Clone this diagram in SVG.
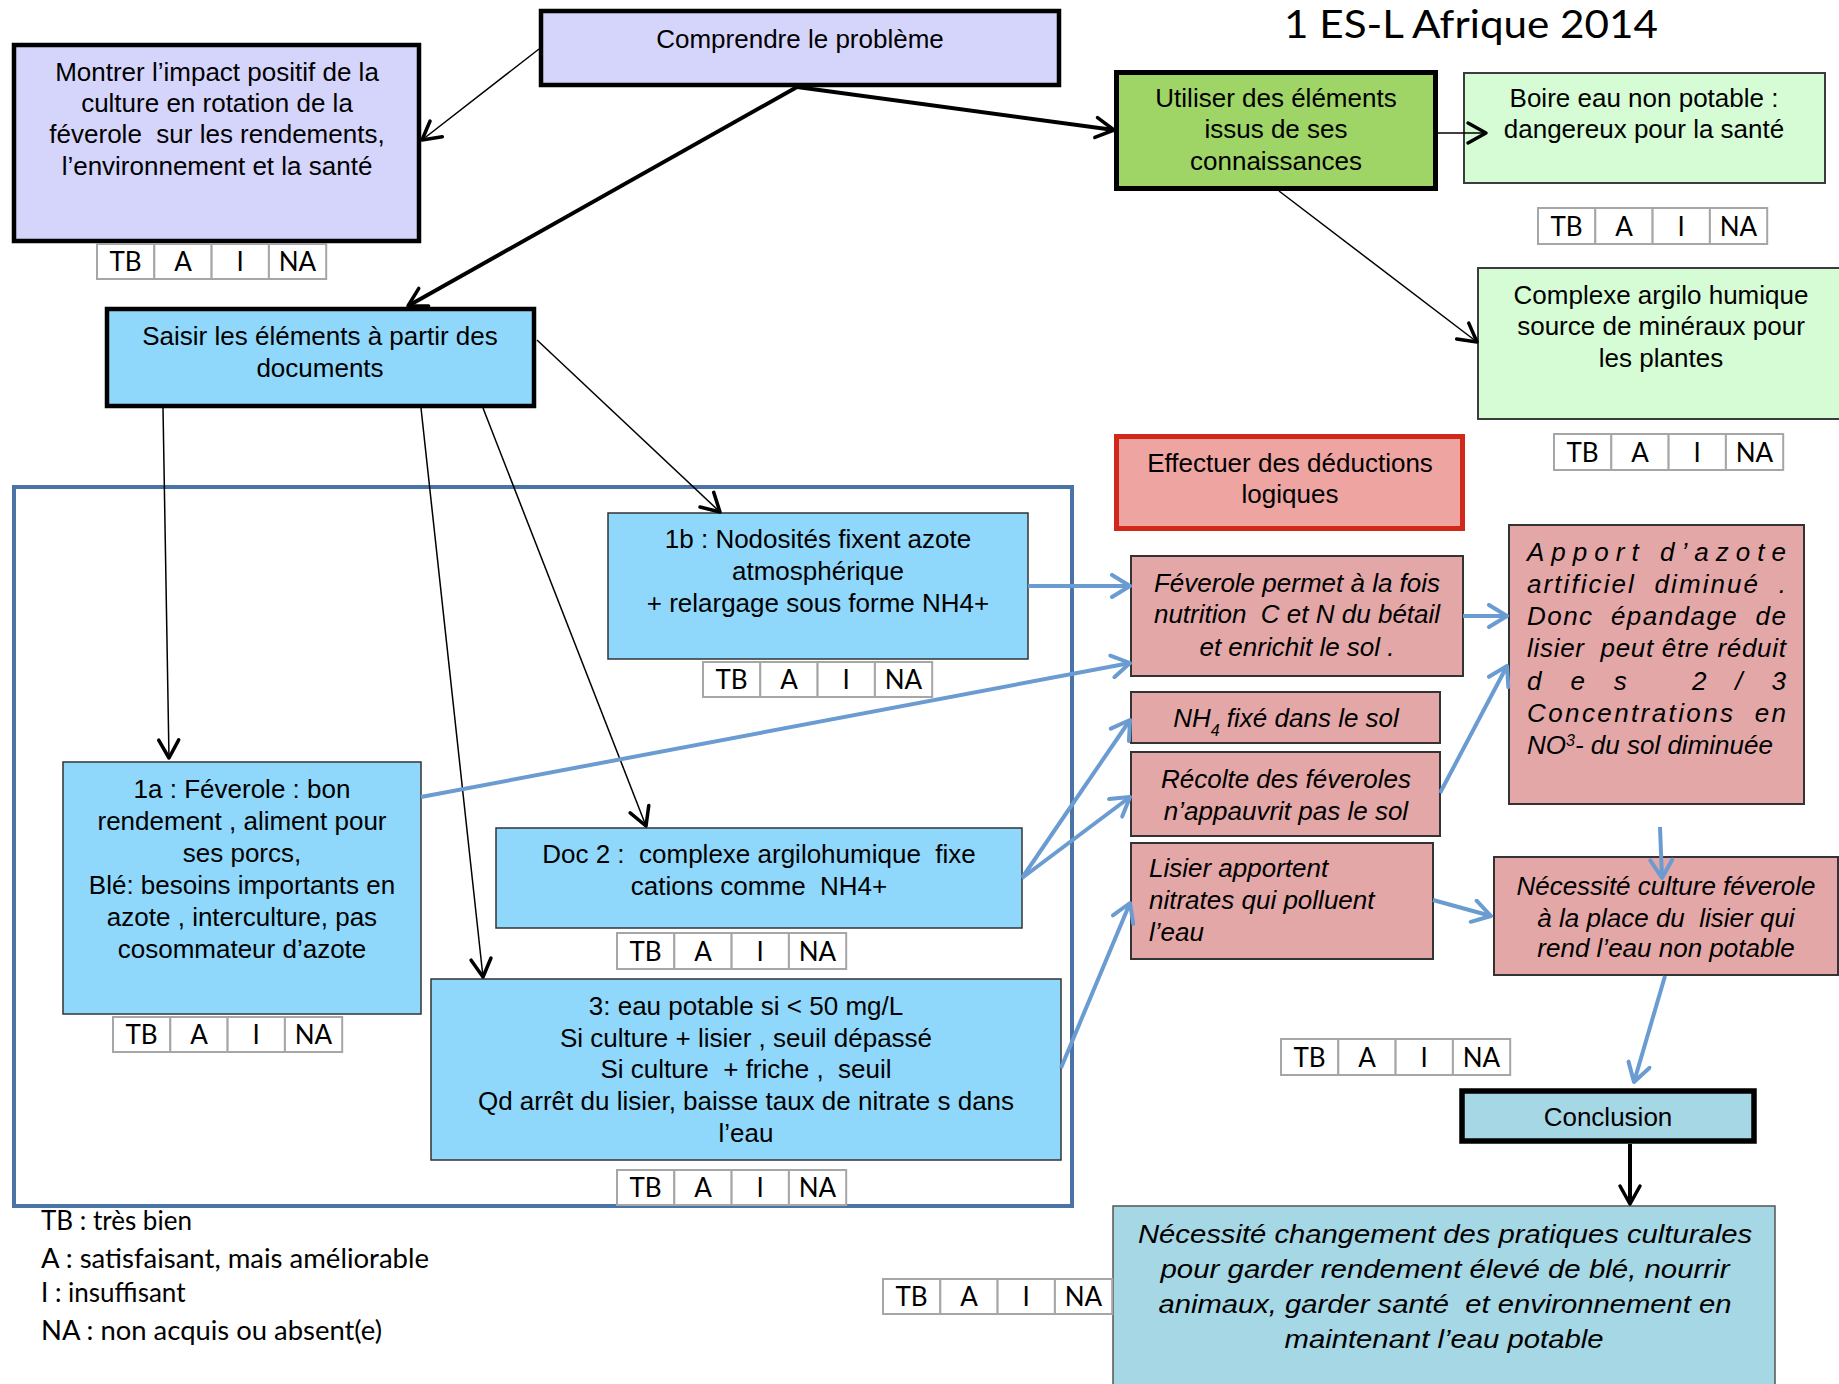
<svg xmlns="http://www.w3.org/2000/svg" width="1839" height="1384" viewBox="0 0 1839 1384" xml:space="preserve">
<style>
text{white-space:pre}
.lav{fill:#d5d5fb;stroke:#000;stroke-width:4.5}
.grn{fill:#9fd466;stroke:#000;stroke-width:5}
.lg{fill:#d5fcd5;stroke:#3c3c3c;stroke-width:2}
.sky{fill:#8fd8fb;stroke:#333;stroke-width:1.5}
.skyb{fill:#8fd8fb;stroke:#000;stroke-width:4.5}
.red{fill:#eea4a1;stroke:#d2281a;stroke-width:5}
.pink{fill:#e3a7a7;stroke:#333;stroke-width:2}
.aq{fill:#a6d7e5;stroke:#000;stroke-width:5.5}
.aq2{fill:#a6d7e5;stroke:#555;stroke-width:1.5}
.frame{fill:none;stroke:#4a74a6;stroke-width:4}
.cell{fill:#fff;stroke:#a6a6a6;stroke-width:2}
.t{font-family:"Liberation Sans",Arial,sans-serif;font-size:26px;fill:#000;text-anchor:middle}
.ti{font-family:"Liberation Sans",Arial,sans-serif;font-size:26px;font-style:italic;fill:#000;text-anchor:middle}
.tl{font-family:"Liberation Sans",Arial,sans-serif;font-size:26px;font-style:italic;fill:#000;text-anchor:start}
.c{font-family:Lato,"Liberation Sans",sans-serif;font-size:26px;fill:#000;text-anchor:middle}
.lgd{font-family:Lato,"Liberation Sans",sans-serif;font-size:26px;fill:#000}
.thin{stroke:#000;stroke-width:1.5;fill:none}
.thick{stroke:#000;stroke-width:4;fill:none}
.blu{stroke:#6a9bd1;stroke-width:4;fill:none}
</style>
<defs>
<marker id="ak" viewBox="0 0 26 26" refX="22" refY="13" markerWidth="26" markerHeight="26" markerUnits="userSpaceOnUse" orient="auto"><path d="M4,3 L22,13 L4,23" fill="none" stroke="#000" stroke-width="3.5" stroke-linecap="round" stroke-linejoin="round"/></marker>
<marker id="ab" viewBox="0 0 26 26" refX="22" refY="13" markerWidth="26" markerHeight="26" markerUnits="userSpaceOnUse" orient="auto"><path d="M4,2 L22,13 L4,24" fill="none" stroke="#6a9bd1" stroke-width="4" stroke-linecap="round" stroke-linejoin="round"/></marker>
</defs>
<rect width="1839" height="1384" fill="#fff"/>
<g id="frame"><rect class="frame" x="14" y="487" width="1058" height="719"/></g>
<g id="title"><text x="1284" y="38" font-family="Lato, 'Liberation Sans', sans-serif" font-size="38" textLength="374" lengthAdjust="spacingAndGlyphs">1 ES-L Afrique 2014</text></g>
<g id="n-montrer"><rect class="lav" x="14" y="45" width="405" height="196"/>
<text class="t" x="217" y="81">Montrer l’impact positif de la</text>
<text class="t" x="217" y="112">culture en rotation de la</text>
<text class="t" x="217" y="143">féverole  sur les rendements,</text>
<text class="t" x="217" y="175">l’environnement et la santé</text></g>
<g id="n-comprendre"><rect class="lav" x="541" y="11" width="518" height="74"/>
<text class="t" x="800" y="48">Comprendre le problème</text></g>
<g id="n-utiliser"><rect class="grn" x="1116.5" y="72.5" width="319" height="116"/>
<text class="t" x="1276" y="107">Utiliser des éléments</text>
<text class="t" x="1276" y="138">issus de ses</text>
<text class="t" x="1276" y="170">connaissances</text></g>
<g id="n-boire"><rect class="lg" x="1464" y="73" width="361" height="110"/>
<text class="t" x="1644" y="107">Boire eau non potable :</text>
<text class="t" x="1644" y="138">dangereux pour la santé</text></g>
<g id="n-complexe"><rect class="lg" x="1478" y="268" width="380" height="151"/>
<text class="t" x="1661" y="304">Complexe argilo humique</text>
<text class="t" x="1661" y="335">source de minéraux pour</text>
<text class="t" x="1661" y="367">les plantes</text></g>
<g id="n-saisir"><rect class="skyb" x="107" y="309" width="427" height="97"/>
<text class="t" x="320" y="345">Saisir les éléments à partir des</text>
<text class="t" x="320" y="377">documents</text></g>
<g id="n-1b"><rect class="sky" x="608" y="513" width="420" height="146"/>
<text class="t" x="818" y="548">1b : Nodosités fixent azote</text>
<text class="t" x="818" y="580">atmosphérique</text>
<text class="t" x="818" y="612">+ relargage sous forme NH4+</text></g>
<g id="n-effectuer"><rect class="red" x="1116.5" y="436.5" width="346" height="92"/>
<text class="t" x="1290" y="472">Effectuer des déductions</text>
<text class="t" x="1290" y="503">logiques</text></g>
<g id="n-feverole"><rect class="pink" x="1131" y="556" width="332" height="120"/>
<text class="ti" x="1297" y="592">Féverole permet à la fois</text>
<text class="ti" x="1297" y="623">nutrition  C et N du bétail</text>
<text class="ti" x="1297" y="656">et enrichit le sol .</text></g>
<g id="n-apport"><rect class="pink" x="1509" y="525" width="295" height="279"/>
<text class="tl" x="1527" y="561" textLength="259" lengthAdjust="spacing">Apport d’azote</text>
<text class="tl" x="1527" y="593" textLength="259" lengthAdjust="spacing">artificiel  diminué  .</text>
<text class="tl" x="1527" y="625" textLength="259" lengthAdjust="spacing">Donc  épandage  de</text>
<text class="tl" x="1527" y="657" textLength="259" lengthAdjust="spacing">lisier  peut être réduit</text>
<text class="tl" x="1527" y="690" textLength="259" lengthAdjust="spacing">des 2/3</text>
<text class="tl" x="1527" y="722" textLength="259" lengthAdjust="spacing">Concentrations  en</text>
<text class="tl" x="1527" y="754">NO<tspan font-size="16" baseline-shift="super">3</tspan>- du sol diminuée</text></g>
<g id="n-nh4"><rect class="pink" x="1131" y="692" width="309" height="51"/>
<text class="ti" x="1286" y="727">NH<tspan font-size="16" baseline-shift="sub">4</tspan> fixé dans le sol</text></g>
<g id="n-recolte"><rect class="pink" x="1131" y="752" width="309" height="84"/>
<text class="ti" x="1286" y="788">Récolte des féveroles</text>
<text class="ti" x="1286" y="820">n’appauvrit pas le sol</text></g>
<g id="n-lisier"><rect class="pink" x="1131" y="843" width="302" height="116"/>
<text class="tl" x="1149" y="877">Lisier apportent</text>
<text class="tl" x="1149" y="909">nitrates qui polluent</text>
<text class="tl" x="1149" y="941">l’eau</text></g>
<g id="n-necessite"><rect class="pink" x="1494" y="857" width="344" height="118"/>
<text class="ti" x="1666" y="895">Nécessité culture féverole</text>
<text class="ti" x="1666" y="927">à la place du  lisier qui</text>
<text class="ti" x="1666" y="957">rend l’eau non potable</text></g>
<g id="n-1a"><rect class="sky" x="63" y="762" width="358" height="252"/>
<text class="t" x="242" y="798">1a : Féverole : bon</text>
<text class="t" x="242" y="830">rendement , aliment pour</text>
<text class="t" x="242" y="862">ses porcs,</text>
<text class="t" x="242" y="894">Blé: besoins importants en</text>
<text class="t" x="242" y="926">azote , interculture, pas</text>
<text class="t" x="242" y="958">cosommateur d’azote</text></g>
<g id="n-doc2"><rect class="sky" x="496" y="828" width="526" height="100"/>
<text class="t" x="759" y="863">Doc 2 :  complexe argilohumique  fixe</text>
<text class="t" x="759" y="895">cations comme  NH4+</text></g>
<g id="n-3"><rect class="sky" x="431" y="979" width="630" height="181"/>
<text class="t" x="746" y="1015">3: eau potable si &lt; 50 mg/L</text>
<text class="t" x="746" y="1047">Si culture + lisier , seuil dépassé</text>
<text class="t" x="746" y="1078">Si culture  + friche ,  seuil</text>
<text class="t" x="746" y="1110">Qd arrêt du lisier, baisse taux de nitrate s dans</text>
<text class="t" x="746" y="1142">l’eau</text></g>
<g id="n-conclusion"><rect class="aq" x="1462" y="1091" width="292" height="50"/>
<text class="t" x="1608" y="1126">Conclusion</text></g>
<g id="n-final"><rect class="aq2" x="1113" y="1206" width="662" height="200"/>
<text class="ti" x="1445" y="1243" font-size="30" textLength="614" lengthAdjust="spacingAndGlyphs">Nécessité changement des pratiques culturales</text>
<text class="ti" x="1445" y="1278" font-size="30" textLength="569" lengthAdjust="spacingAndGlyphs">pour garder rendement élevé de blé, nourrir</text>
<text class="ti" x="1445" y="1313" font-size="30" textLength="573" lengthAdjust="spacingAndGlyphs">animaux, garder santé  et environnement en</text>
<text class="ti" x="1444" y="1348" font-size="30" textLength="319" lengthAdjust="spacingAndGlyphs">maintenant l’eau potable</text></g>
<g id="tb-montrer" transform="translate(97,244)"><rect class="cell" x="0" y="0" width="57.3" height="35"/><rect class="cell" x="57.3" y="0" width="57.3" height="35"/><rect class="cell" x="114.6" y="0" width="57.3" height="35"/><rect class="cell" x="171.9" y="0" width="57.3" height="35"/><text class="c" x="28.6" y="27">TB</text><text class="c" x="86" y="27">A</text><text class="c" x="143.2" y="27">I</text><text class="c" x="200.5" y="27">NA</text></g>
<g id="tb-boire" transform="translate(1538,208)"><rect class="cell" x="0" y="0" width="57.3" height="36"/><rect class="cell" x="57.3" y="0" width="57.3" height="36"/><rect class="cell" x="114.6" y="0" width="57.3" height="36"/><rect class="cell" x="171.9" y="0" width="57.3" height="36"/><text class="c" x="28.6" y="28">TB</text><text class="c" x="86" y="28">A</text><text class="c" x="143.2" y="28">I</text><text class="c" x="200.5" y="28">NA</text></g>
<g id="tb-complexe" transform="translate(1554,434)"><rect class="cell" x="0" y="0" width="57.3" height="36"/><rect class="cell" x="57.3" y="0" width="57.3" height="36"/><rect class="cell" x="114.6" y="0" width="57.3" height="36"/><rect class="cell" x="171.9" y="0" width="57.3" height="36"/><text class="c" x="28.6" y="28">TB</text><text class="c" x="86" y="28">A</text><text class="c" x="143.2" y="28">I</text><text class="c" x="200.5" y="28">NA</text></g>
<g id="tb-1b" transform="translate(703,662)"><rect class="cell" x="0" y="0" width="57.3" height="35"/><rect class="cell" x="57.3" y="0" width="57.3" height="35"/><rect class="cell" x="114.6" y="0" width="57.3" height="35"/><rect class="cell" x="171.9" y="0" width="57.3" height="35"/><text class="c" x="28.6" y="27">TB</text><text class="c" x="86" y="27">A</text><text class="c" x="143.2" y="27">I</text><text class="c" x="200.5" y="27">NA</text></g>
<g id="tb-1a" transform="translate(113,1017)"><rect class="cell" x="0" y="0" width="57.3" height="35"/><rect class="cell" x="57.3" y="0" width="57.3" height="35"/><rect class="cell" x="114.6" y="0" width="57.3" height="35"/><rect class="cell" x="171.9" y="0" width="57.3" height="35"/><text class="c" x="28.6" y="27">TB</text><text class="c" x="86" y="27">A</text><text class="c" x="143.2" y="27">I</text><text class="c" x="200.5" y="27">NA</text></g>
<g id="tb-doc2" transform="translate(617,933)"><rect class="cell" x="0" y="0" width="57.3" height="36"/><rect class="cell" x="57.3" y="0" width="57.3" height="36"/><rect class="cell" x="114.6" y="0" width="57.3" height="36"/><rect class="cell" x="171.9" y="0" width="57.3" height="36"/><text class="c" x="28.6" y="28">TB</text><text class="c" x="86" y="28">A</text><text class="c" x="143.2" y="28">I</text><text class="c" x="200.5" y="28">NA</text></g>
<g id="tb-3" transform="translate(617,1170)"><rect class="cell" x="0" y="0" width="57.3" height="35"/><rect class="cell" x="57.3" y="0" width="57.3" height="35"/><rect class="cell" x="114.6" y="0" width="57.3" height="35"/><rect class="cell" x="171.9" y="0" width="57.3" height="35"/><text class="c" x="28.6" y="27">TB</text><text class="c" x="86" y="27">A</text><text class="c" x="143.2" y="27">I</text><text class="c" x="200.5" y="27">NA</text></g>
<g id="tb-lisier" transform="translate(1281,1039)"><rect class="cell" x="0" y="0" width="57.3" height="36"/><rect class="cell" x="57.3" y="0" width="57.3" height="36"/><rect class="cell" x="114.6" y="0" width="57.3" height="36"/><rect class="cell" x="171.9" y="0" width="57.3" height="36"/><text class="c" x="28.6" y="28">TB</text><text class="c" x="86" y="28">A</text><text class="c" x="143.2" y="28">I</text><text class="c" x="200.5" y="28">NA</text></g>
<g id="tb-final" transform="translate(883,1279)"><rect class="cell" x="0" y="0" width="57.3" height="35"/><rect class="cell" x="57.3" y="0" width="57.3" height="35"/><rect class="cell" x="114.6" y="0" width="57.3" height="35"/><rect class="cell" x="171.9" y="0" width="57.3" height="35"/><text class="c" x="28.6" y="27">TB</text><text class="c" x="86" y="27">A</text><text class="c" x="143.2" y="27">I</text><text class="c" x="200.5" y="27">NA</text></g>
<g id="legend">
<text class="lgd" x="41" y="1230">TB : très bien</text>
<text class="lgd" x="41" y="1268" textLength="388" lengthAdjust="spacingAndGlyphs">A : satisfaisant, mais améliorable</text>
<text class="lgd" x="41" y="1302">I : insuffisant</text>
<text class="lgd" x="41" y="1340" textLength="341" lengthAdjust="spacingAndGlyphs">NA : non acquis ou absent(e)</text></g>
<g id="connectors">
<line class="thin" x1="539" y1="49" x2="422" y2="140" marker-end="url(#ak)"/>
<line class="thick" x1="797" y1="87" x2="408" y2="306" marker-end="url(#ak)"/>
<line class="thick" x1="797" y1="87" x2="1114" y2="130" marker-end="url(#ak)"/>
<line class="thin" x1="1438" y1="133" x2="1486" y2="133" marker-end="url(#ak)"/>
<line class="thin" x1="1279" y1="191" x2="1477" y2="342" marker-end="url(#ak)"/>
<line class="thin" x1="163" y1="408" x2="169" y2="758" marker-end="url(#ak)"/>
<line class="thin" x1="421" y1="408" x2="483" y2="977" marker-end="url(#ak)"/>
<line class="thin" x1="483" y1="408" x2="646" y2="826" marker-end="url(#ak)"/>
<line class="thin" x1="537" y1="340" x2="720" y2="512" marker-end="url(#ak)"/>
<line class="thick" x1="1630" y1="1144" x2="1630" y2="1204" stroke-width="3" marker-end="url(#ak)"/>
<line class="blu" x1="1028" y1="586" x2="1130" y2="586" marker-end="url(#ab)"/>
<line class="blu" x1="421" y1="797" x2="1130" y2="663" marker-end="url(#ab)"/>
<line class="blu" x1="1022" y1="878" x2="1130" y2="720" marker-end="url(#ab)"/>
<line class="blu" x1="1022" y1="878" x2="1130" y2="797" marker-end="url(#ab)"/>
<line class="blu" x1="1061" y1="1068" x2="1130" y2="903" marker-end="url(#ab)"/>
<line class="blu" x1="1463" y1="616" x2="1507" y2="616" marker-end="url(#ab)"/>
<line class="blu" x1="1440" y1="793" x2="1507" y2="666" marker-end="url(#ab)"/>
<line class="blu" x1="1660" y1="827" x2="1662" y2="878" marker-end="url(#ab)"/>
<line class="blu" x1="1433" y1="900" x2="1491" y2="916" marker-end="url(#ab)"/>
<line class="blu" x1="1665" y1="976" x2="1634" y2="1082" marker-end="url(#ab)"/>
</g>
</svg>
